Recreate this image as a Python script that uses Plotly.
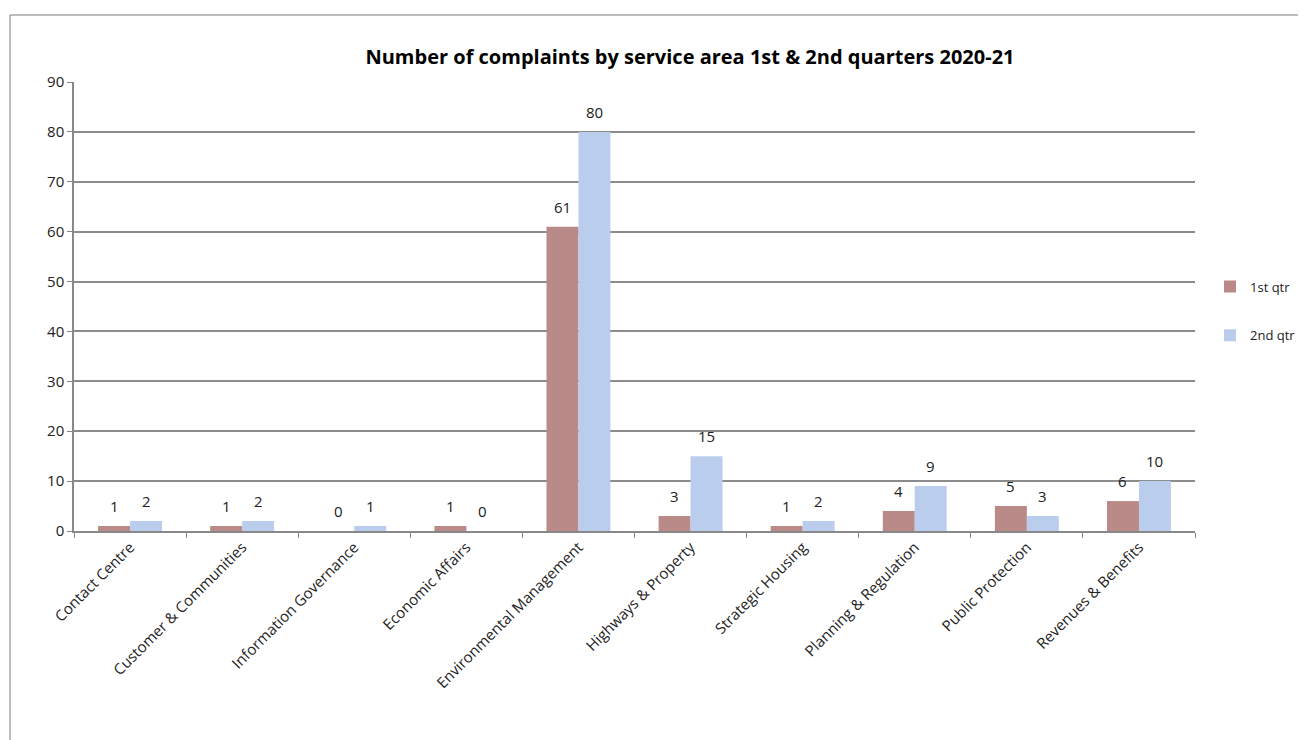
import plotly.graph_objects as go

categories = ["Contact Centre", "Customer & Communities", "Information Governance",
              "Economic Affairs", "Environmental Management", "Highways & Property",
              "Strategic Housing", "Planning & Regulation", "Public Protection",
              "Revenues & Benefits"]
q1_values = [1, 1, 0, 1, 61, 3, 1, 4, 5, 6]
q2_values = [2, 2, 1, 0, 80, 15, 2, 9, 3, 10]
series_names = ["1st qtr", "2nd qtr"]
title_text = "Number of complaints by service area 1st & 2nd quarters 2020-21"

OFF = 8  # default page body margin
W, H = 1306 - OFF, 740 - OFF
L, R, T, B = 74 - OFF, 111, 82 - OFF, 209
pw, ph = W - L - R, H - T - B

FONT = "Open Sans"
BARGAP = 0.43
bar_px = pw / len(categories) * (1 - BARGAP) / 2

colors = ["#B98A87", "#BACDEC"]

fig = go.Figure()
for name, vals, col, grp in [(series_names[0], q1_values, colors[0], "a"),
                             (series_names[1], q2_values, colors[1], "b")]:
    fig.add_trace(go.Bar(
        x=categories, y=vals, name=name,
        marker=dict(color=col, line=dict(width=0)),
        legendgroup=grp,
    ))

annotations = []
for vals, sign in [(q1_values, -1), (q2_values, 1)]:
    for c, v in zip(categories, vals):
        annotations.append(dict(
            x=c, y=v, xref="x", yref="y", text=str(v), showarrow=False,
            xanchor="center", yanchor="middle",
            xshift=sign * bar_px / 2, yshift=20,
            font=dict(family=FONT, size=15, color="#222"),
        ))

def px_x(p):
    return (p - OFF - L) / pw

def px_y(p):
    return (H - B - (p - OFF)) / ph

fig.update_layout(
    width=W, height=H,
    margin=dict(l=L, r=R, t=T, b=B, autoexpand=False),
    paper_bgcolor="white", plot_bgcolor="white",
    barmode="group", bargap=BARGAP, bargroupgap=0,
    title=dict(text=title_text, x=(690 - OFF) / W, xref="container", xanchor="center",
               y=1 - (57 - OFF) / H, yref="container", yanchor="middle",
               font=dict(family=FONT, size=20, color="#000", weight="bold")),
    font=dict(family=FONT, size=14, color="#222"),
    showlegend=True,
    legend=dict(x=px_x(1210), y=px_y(311), xanchor="left", yanchor="middle",
                font=dict(family=FONT, size=13, color="#222"),
                tracegroupgap=29, itemwidth=30, traceorder="grouped",
                bgcolor="rgba(0,0,0,0)"),
    xaxis=dict(type="category", tickangle=-45, ticks="outside", tickson="boundaries",
               ticklen=5, tickcolor="#888", showline=True, linecolor="#888", linewidth=1.5,
               showgrid=False, tickfont=dict(family=FONT, size=15, color="#222")),
    yaxis=dict(range=[0, 90], dtick=10, ticks="outside", ticklen=5, tickcolor="#888",
               showline=True, linecolor="#888", linewidth=1.5,
               showgrid=True, gridcolor="#8c8c8c", gridwidth=1.5, zeroline=False,
               tickfont=dict(family=FONT, size=15, color="#222")),
    annotations=annotations,
    shapes=[
        dict(type="line", xref="paper", yref="paper", x0=px_x(10), x1=px_x(1320),
             y0=px_y(15), y1=px_y(15), line=dict(color="#a6a6a6", width=1.5)),
        dict(type="line", xref="paper", yref="paper", x0=px_x(10), x1=px_x(10),
             y0=px_y(15), y1=px_y(760), line=dict(color="#a6a6a6", width=1.5)),
    ],
)

fig.write_html("out.html")
